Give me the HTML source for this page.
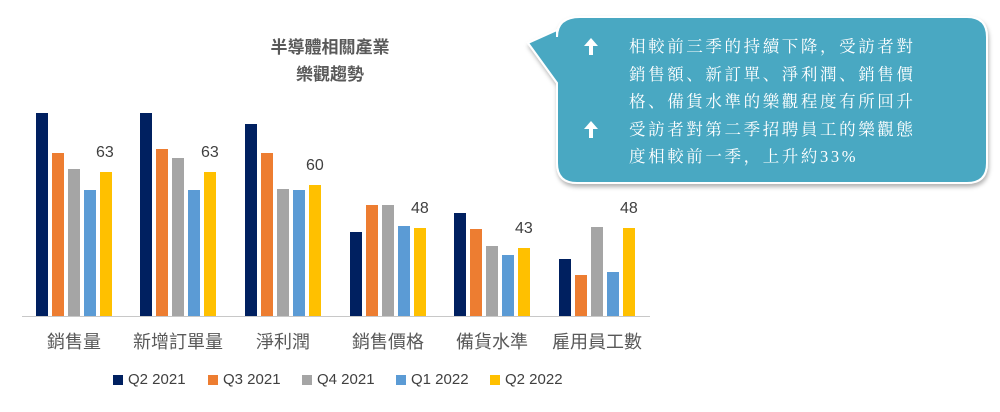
<!DOCTYPE html>
<html><head><meta charset="utf-8"><style>
body{margin:0;width:1000px;height:412px;background:#fff;overflow:hidden;position:relative;font-family:"Liberation Sans","Noto Sans CJK TC",sans-serif}
.b{position:absolute;width:12px}
.t{position:absolute;font-size:16px;color:#404040}
.c{position:absolute;font-size:18px;color:#595959;text-align:center;width:104px;top:328px}
.lg{position:absolute;top:371px;font-size:15px;color:#404040}
.lg i{display:inline-block;width:10px;height:10px;margin-right:5px;vertical-align:-1px}
</style></head><body>
<div style="position:absolute;left:230px;top:34px;width:200px;text-align:center;font-weight:bold;font-size:17px;line-height:27px;color:#595959">半導體相關產業<br>樂觀趨勢</div>
<div style="position:absolute;left:22px;top:316px;width:628px;height:1px;background:#c8c8c8"></div>
<div id="bars"></div>
<script>
var cols=["#002060","#ed7d31","#a5a5a5","#5b9bd5","#ffc000"];
var tops=[[113,153,169,190,172],[113,149,158,190,172],[124,153,189,190,185],[232,205,205,226,228],[213,229,246,255,248],[259,275,227,272,228]];
var starts=[36,140,245,350,454,559];
var h="";
for(var g=0;g<6;g++)for(var k=0;k<5;k++){var x=starts[g]+k*16;h+='<div class="b" style="left:'+x+'px;top:'+tops[g][k]+'px;height:'+(316-tops[g][k])+'px;background:'+cols[k]+'"></div>';}
document.getElementById("bars").innerHTML=h;
</script>
<div class="t" style="left:96px;top:144px">63</div>
<div class="t" style="left:201px;top:144px">63</div>
<div class="t" style="left:306px;top:157px">60</div>
<div class="t" style="left:411px;top:200px">48</div>
<div class="t" style="left:515px;top:220px">43</div>
<div class="t" style="left:620px;top:200px">48</div>
<div class="c" style="left:22px">銷售量</div>
<div class="c" style="left:126px">新增訂單量</div>
<div class="c" style="left:231px">淨利潤</div>
<div class="c" style="left:336px">銷售價格</div>
<div class="c" style="left:440px">備貨水準</div>
<div class="c" style="left:545px">雇用員工數</div>
<div class="lg" style="left:113px"><i style="background:#002060"></i>Q2 2021</div>
<div class="lg" style="left:208px"><i style="background:#ed7d31"></i>Q3 2021</div>
<div class="lg" style="left:302px"><i style="background:#a5a5a5"></i>Q4 2021</div>
<div class="lg" style="left:396px"><i style="background:#5b9bd5"></i>Q1 2022</div>
<div class="lg" style="left:490px"><i style="background:#ffc000"></i>Q2 2022</div>
<svg style="position:absolute;left:0;top:0" width="1000" height="412">
<defs><filter id="s" x="-10%" y="-10%" width="120%" height="130%"><feDropShadow dx="1" dy="3" stdDeviation="2" flood-color="#000" flood-opacity="0.3"/></filter></defs>
<path d="M580,17 H967 Q987,17 987,37 V163 Q987,183 967,183 H577 Q557,183 557,163 V83 L528,43 L557,30 V37 Q557,17 580,17 Z" fill="#4aa8c2" stroke="#fff" stroke-width="2" filter="url(#s)"/>
<g fill="#fff"><path d="M591,38 l-7,8 h5 v9 h4 v-9 h5 z"/><path d="M591,121 l-7,8 h5 v9 h4 v-9 h5 z"/></g>
</svg>
<div style="position:absolute;left:629px;top:33px;width:350px;font-size:16.5px;line-height:27.5px;letter-spacing:2.6px;color:#fff;font-family:'Liberation Serif','Noto Serif CJK SC',serif">相較前三季的持續下降，受訪者對<br>銷售額、新訂單、淨利潤、銷售價<br>格、備貨水準的樂觀程度有所回升<br>受訪者對第二季招聘員工的樂觀態<br>度相較前一季，上升約33%</div>
</body></html>
